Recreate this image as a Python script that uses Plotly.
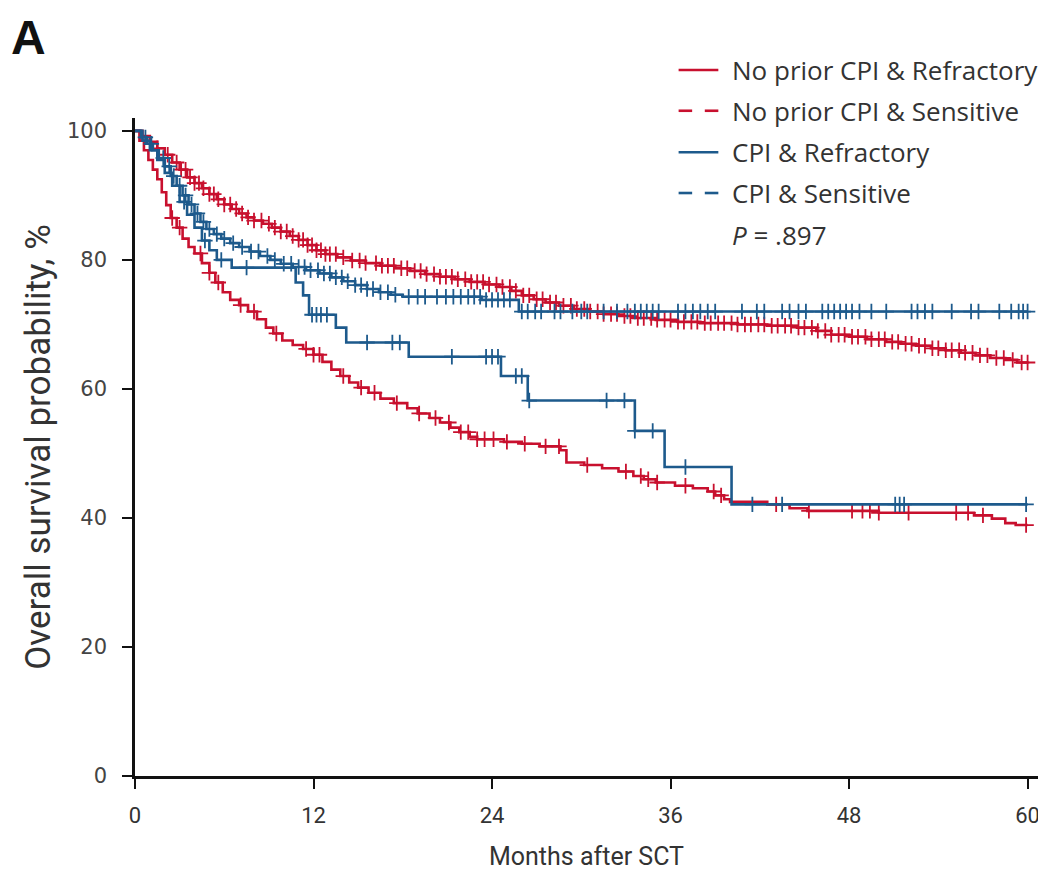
import numpy as np
import plotly.graph_objects as go

# ---------------- data ----------------
# No prior CPI & Refractory: (time of drop, survival after drop)
nr_t = [0, 0.3, 0.6, 0.9, 1.2, 1.5, 1.8, 2.1, 2.4, 2.8, 3.2, 3.6, 4.0, 4.5, 5.0, 5.4, 5.9, 6.4, 7.0, 7.6,
        8.2, 8.8, 9.3, 9.9, 10.6, 11.3, 12.0, 12.6, 13.2, 13.8, 14.4, 15.0, 15.7, 16.5, 17.4, 18.3, 19.0,
        19.8, 20.5, 21.2, 21.8, 22.5, 23.0, 24.8, 26.0, 27.2, 28.6, 29.0, 30.2, 31.4, 32.5, 33.5, 34.2,
        35.0, 36.3, 37.5, 38.5, 39.0, 39.6, 40.0, 42.5, 44.0, 45.2, 50.0, 56.4, 57.6, 58.5, 59.2, 60.0]
nr_s = [100, 98.5, 97, 95.5, 94, 92.5, 90.5, 88.5, 86.5, 85, 83.3, 82, 81, 79.5, 78, 76.5, 75, 73.8, 73, 72,
        70.8, 69.5, 68.6, 67.5, 66.8, 66.2, 65.3, 64.2, 63, 62, 61, 60.2, 59.4, 58.5, 57.8, 57, 56.2,
        55.5, 54.8, 54, 53.3, 52.6, 52.2, 51.8, 51.5, 51.1, 50.5, 48.6, 48.2, 47.7, 47.2, 46.5, 46,
        45.5, 45, 44.6, 44.1, 43.5, 42.9, 42.5, 42.1, 41.5, 41.1, 40.8, 40.4, 39.9, 39.2, 38.9, 38.9]
nr_cens = [2.5, 3.0, 4.4, 5.0, 5.6, 7.1, 8.0, 9.5, 11.5, 12.0, 12.4, 14.0, 15.2, 16.1, 17.6, 19.1, 20.2,
           21.1, 21.9, 22.4, 23.0, 23.5, 24.1, 25.0, 26.2, 27.6, 28.5, 30.4, 33.0, 34.0, 34.5, 35.1,
           37.0, 38.9, 39.4, 43.1, 45.3, 48.2, 48.9, 49.4, 50.0, 52.0, 55.2, 56.0, 57.0, 59.9]

# No prior CPI & Sensitive
ns_t = [0, 0.5, 1.0, 1.5, 2.0, 2.5, 3.0, 3.5, 4.0, 4.5, 5.0, 5.5, 6.0, 6.5, 7.0, 7.5, 8.0, 8.6, 9.2, 9.8,
        10.4, 11.0, 11.6, 12.2, 12.8, 13.6, 14.5, 15.5, 16.5, 17.5, 18.5, 19.5, 20.5, 21.5, 22.5, 23.5,
        24.5, 25.3, 26.0, 26.8, 27.6, 28.5, 29.5, 30.5, 31.5, 32.5, 33.5, 35.0, 36.5, 38.0, 40.5, 42.5,
        44.5, 45.8, 46.8, 48.0, 49.2, 50.5, 51.5, 52.5, 53.5, 54.5, 55.5, 56.5, 57.5, 58.5, 59.3, 60.0]
ns_s = [100, 99.2, 98.3, 97.3, 96.3, 95.1, 94, 92.8, 91.9, 91.1, 90.2, 89.4, 88.6, 87.9, 87.2, 86.6, 86.1,
        85.6, 85, 84.4, 83.7, 83.1, 82.3, 81.5, 80.9, 80.4, 79.9, 79.5, 79.1, 78.7, 78.3, 77.8, 77.4, 77,
        76.6, 76.2, 75.8, 75.2, 74.5, 73.9, 73.4, 72.9, 72.4, 72, 71.6, 71.3, 71, 70.7, 70.4, 70.2, 70,
        69.8, 69.5, 69, 68.4, 68.1, 67.7, 67.3, 67, 66.7, 66.3, 66, 65.6, 65.2, 64.8, 64.5, 64.1, 64.1]
ns_cens = [1.5, 2.2, 2.8, 3.1, 3.4, 3.7, 4.0, 4.3, 4.6, 5.0, 5.3, 5.6, 6.0, 6.4, 6.8, 7.2, 7.6, 8.0, 8.5,
           9.0, 9.4, 9.8, 10.2, 10.6, 11.0, 11.3, 11.6, 11.9, 12.2, 12.5, 12.8, 13.1, 13.5, 14.0, 14.6,
           15.1, 15.5, 16.2, 16.6, 17.0, 17.4, 17.9, 18.3, 18.8, 19.2, 19.6, 20.1, 20.5, 20.9, 21.3,
           21.7, 22.2, 22.6, 23.0, 23.4, 23.8, 24.3, 24.7, 25.2, 25.6, 26.1, 26.5, 27.0, 27.4, 27.9,
           28.3, 28.8, 29.3, 29.7, 30.2, 30.6, 31.1, 31.5, 32.0, 32.4, 32.9, 33.3, 33.8, 34.2, 34.7,
           35.1, 35.6, 36.0, 36.5, 36.9, 37.4, 37.8, 38.3, 38.7, 39.2, 39.6, 40.1, 40.5, 41.0, 41.4,
           41.9, 42.3, 42.8, 43.2, 43.7, 44.1, 44.6, 45.0, 45.5, 45.9, 46.4, 46.8, 47.3, 47.7, 48.2,
           48.6, 49.1, 49.5, 50.0, 50.4, 50.9, 51.3, 51.8, 52.2, 52.7, 53.1, 53.6, 54.0, 54.5, 54.9,
           55.4, 55.8, 56.3, 56.8, 57.3, 57.9, 58.4, 59.0, 59.6, 60.0]

# CPI & Refractory
cr_t = [0, 0.5, 1.0, 1.5, 2.0, 2.5, 3.0, 3.5, 4.0, 4.5, 5.0, 5.5, 6.5, 10.8, 11.3, 11.7, 13.5, 14.2,
        18.4, 24.6, 26.4, 33.6, 35.6, 40.1, 60.0]
cr_s = [100, 98.5, 97, 95.5, 93.5, 91.5, 89, 87, 85, 83, 81.5, 80, 78.8, 76.5, 74.5, 71.5, 69.5, 67.2,
        65, 62, 58.2, 53.5, 47.9, 42.1, 42.1]
cr_cens = [3.3, 4.7, 5.8, 7.5, 11.9, 12.2, 12.5, 12.9, 15.6, 17.3, 17.8, 21.3, 23.6, 24.0, 24.4, 25.6,
           26.0, 26.5, 31.7, 32.9, 33.6, 34.8, 37.0, 41.5, 43.5, 51.1, 51.4, 51.7, 59.9]

# CPI & Sensitive
cs_t = [0, 0.4, 0.8, 1.2, 1.6, 2.0, 2.4, 2.8, 3.2, 3.6, 4.0, 4.4, 4.8, 5.3, 5.8, 6.4, 7.0, 7.7, 8.4, 9.1,
        9.8, 10.6, 11.5, 12.4, 13.2, 14.0, 14.8, 15.6, 16.4, 17.2, 18.0, 23.3, 25.8, 60.0]
cs_s = [100, 99, 98, 97, 95.8, 94.5, 93, 91.5, 90, 88.6, 87.2, 85.9, 84.8, 84, 83.3, 82.6, 82, 81.3, 80.6,
        80, 79.4, 78.9, 78.4, 77.9, 77.3, 76.7, 76.1, 75.5, 75, 74.6, 74.3, 73.8, 72.0, 72.0]
cs_cens = [0.7, 1.1, 1.9, 2.3, 2.6, 3.0, 3.4, 3.8, 4.2, 4.6, 5.0, 5.5, 6.0, 6.6, 7.2, 7.8, 8.3, 8.9, 9.4,
           10.0, 10.5, 11.0, 11.4, 11.8, 12.3, 12.7, 13.1, 13.5, 13.9, 14.3, 14.8, 15.2, 15.6, 16.0,
           16.5, 17.0, 17.5, 18.4, 19.0, 19.5, 20.3, 20.9, 21.4, 21.9, 22.4, 22.8, 23.2, 23.6, 24.0,
           24.4, 24.8, 25.2, 26.0, 26.4, 26.9, 27.3, 28.2, 28.6, 29.4, 30.0, 30.4, 31.5, 32.4, 33.1,
           33.6, 34.0, 34.4, 34.8, 35.2, 36.5, 37.0, 37.5, 38.0, 38.5, 39.0, 40.8, 41.8, 42.3, 43.5,
           44.0, 44.6, 45.1, 46.2, 46.6, 47.0, 47.4, 47.8, 48.2, 48.7, 49.5, 50.5, 52.2, 52.6, 53.1,
           53.6, 54.9, 56.2, 56.7, 58.1, 58.9, 59.4, 59.7, 60.0]

names = ["No prior CPI & Refractory", "No prior CPI & Sensitive", "CPI & Refractory", "CPI & Sensitive"]
x_ticks = [0, 12, 24, 36, 48, 60]
y_ticks = [0, 20, 40, 60, 80, 100]
RED = "#c8102e"
BLUE = "#1d5a8c"

series = [
    (nr_t, nr_s, nr_cens, RED),
    (ns_t, ns_s, ns_cens, RED),
    (cr_t, cr_s, cr_cens, BLUE),
    (cs_t, cs_s, cs_cens, BLUE),
]


def step_lookup(t, s, x):
    t = np.asarray(t)
    s = np.asarray(s)
    idx = np.searchsorted(t, np.asarray(x), side="right") - 1
    idx = np.clip(idx, 0, len(s) - 1)
    return s[idx]


fig = go.Figure()
for i in [1, 0, 2, 3]:
    t, s, cens, col = series[i]
    fig.add_trace(go.Scatter(x=t, y=s, mode="lines", line=dict(color=col, width=2.6, shape="hv"),
                             name=names[i], showlegend=False, hoverinfo="skip"))
    fig.add_trace(go.Scatter(x=cens, y=step_lookup(t, s, cens), mode="markers",
                             marker=dict(symbol="cross-thin", size=11, line=dict(color=col, width=1.8)),
                             showlegend=False, hoverinfo="skip"))

# manual legend (positions in paper coords)
leg_y = [1.073, 1.011, 0.948, 0.886]
leg_dash = ["solid", "dash", "solid", "dash"]
leg_col = [RED, RED, BLUE, BLUE]
for i in range(4):
    if leg_dash[i] == "solid":
        fig.add_shape(type="line", xref="paper", yref="paper", x0=0.602, x1=0.646, y0=leg_y[i], y1=leg_y[i],
                      line=dict(color=leg_col[i], width=2.6))
    else:
        for a, b in [(0.602, 0.617), (0.631, 0.646)]:
            fig.add_shape(type="line", xref="paper", yref="paper", x0=a, x1=b, y0=leg_y[i], y1=leg_y[i],
                          line=dict(color=leg_col[i], width=2.6))
    fig.add_annotation(xref="paper", yref="paper", x=0.659, y=leg_y[i], text=names[i], showarrow=False,
                       xanchor="left", yanchor="middle",
                       font=dict(family="Open Sans, sans-serif", size=26, color="#333333"))
fig.add_annotation(xref="paper", yref="paper", x=0.659, y=0.822, text="<i>P</i> = .897", showarrow=False,
                   xanchor="left", yanchor="middle",
                   font=dict(family="Open Sans, sans-serif", size=26, color="#333333"))
fig.add_annotation(xref="paper", yref="paper", x=-0.14, y=1.165, text="<b>A</b>", showarrow=False,
                   xanchor="left", yanchor="top",
                   font=dict(family="Liberation Sans, Arial, sans-serif", size=48, color="#111111"))

COND = "Liberation Sans Narrow, Arial Narrow, Roboto, sans-serif"
fig.update_xaxes(range=[0, 60.7], tickvals=x_ticks, showline=True, linecolor="#111",
                 linewidth=2.5, ticks="outside", ticklen=10, tickwidth=2, tickcolor="#111",
                 showgrid=False, zeroline=False, ticklabelstandoff=8,
                 tickfont=dict(family=COND, size=22, color="#333"),
                 title=dict(text="Months after SCT", font=dict(family=COND, size=25, color="#333"), standoff=21))
fig.update_yaxes(range=[0, 102], tickvals=y_ticks, showline=True, linecolor="#111",
                 linewidth=2.5, ticks="outside", ticklen=10, tickwidth=2, tickcolor="#111",
                 showgrid=False, zeroline=False, ticklabelstandoff=11,
                 tickfont=dict(family="DejaVu Sans, Verdana, sans-serif", size=21, color="#444"),
                 title=dict(text="Overall survival probability, %", font=dict(family=COND, size=35, color="#333"),
                            standoff=6))
fig.update_layout(width=1036, height=867, margin=dict(l=127, r=4, t=110, b=99),
                  plot_bgcolor="white", paper_bgcolor="white", showlegend=False)

fig.write_html("out.html")
